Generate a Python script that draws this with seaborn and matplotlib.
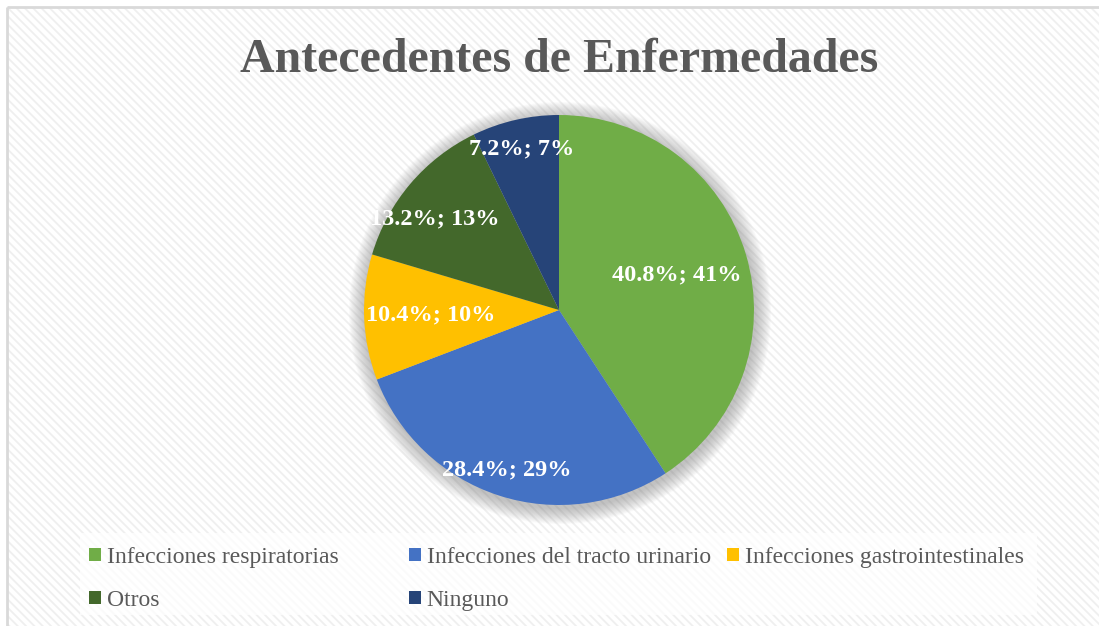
import matplotlib
matplotlib.use("Agg")
import matplotlib.pyplot as plt
from matplotlib.patches import Rectangle, Circle, Patch
from matplotlib.legend import Legend
import numpy as np
import seaborn as sns

# ---- data ----
categories = ["Infecciones respiratorias", "Infecciones del tracto urinario",
              "Infecciones gastrointestinales", "Otros", "Ninguno"]
percent_values = [40.8, 28.4, 10.4, 13.2, 7.2]
rounded_percent = [41, 29, 10, 13, 7]
title_text = "Antecedentes de Enfermedades"

# ---- style ----
sns.set_theme(style="white")
plt.rcParams['font.family'] = ['Liberation Serif', 'DejaVu Serif']
plt.rcParams['hatch.linewidth'] = 1.3
palette = sns.color_palette(["#70AD47", "#4472C4", "#FFC000", "#43682B", "#264478"])
text_gray = "#595959"

W, H = 1099, 626
fig = plt.figure(figsize=(W / 100, H / 100), dpi=100)
ax = fig.add_axes([0, 0, 1, 1])

# background hatch and frame
bg = Rectangle((7, 0), W - 7, H - 7, facecolor="white", edgecolor="#efefef",
               hatch="\\\\\\\\", linewidth=0, zorder=0)
ax.add_patch(bg)
ax.plot([7, 7], [0, H - 7], color="#d9d9d9", lw=2, zorder=1, solid_capstyle="butt")
ax.plot([7, W], [H - 7, H - 7], color="#d9d9d9", lw=2, zorder=1, solid_capstyle="butt")

cx, cy, R = 559, 316, 195

# soft shadow
for k in range(16, 0, -1):
    ax.add_patch(Circle((cx + 1, cy - 3), R + k, facecolor="#808080",
                        edgecolor="none", alpha=0.035, zorder=2))

wedges, _ = ax.pie(percent_values, colors=palette, startangle=90, counterclock=False,
                   center=(cx, cy), radius=R, frame=True,
                   wedgeprops=dict(linewidth=0, zorder=3))
ax.set_xlim(0, W)
ax.set_ylim(0, H)
ax.set_axis_off()
ax.set_aspect("auto")

label_dist = [0.63, 0.86, 0.66, 0.79, 0.85]
label_shift = [0, 0, 0, 4, 0]
for w, p, rp, d, s in zip(wedges, percent_values, rounded_percent, label_dist, label_shift):
    ang = np.deg2rad((w.theta1 + w.theta2) / 2 + s)
    ax.text(cx + d * R * np.cos(ang), cy + d * R * np.sin(ang), f"{p}%; {rp}%",
            ha="center", va="center", color="white", fontsize=17.5,
            fontweight="bold", zorder=5)

# title
ax.text(559, H - 72, title_text, ha="center", va="baseline", fontsize=34.5,
        fontweight="bold", color=text_gray, zorder=5)

# legend background
ax.add_patch(Rectangle((80, H - 615), 957, 82, facecolor="white", edgecolor="none",
                       alpha=0.75, zorder=4))

handles = [Patch(facecolor=c, edgecolor="none") for c in palette]
columns = [[0, 3], [1, 4], [2]]
col_x = [89, 409, 727]
for idx, x in zip(columns, col_x):
    leg = Legend(ax, [handles[i] for i in idx], [categories[i] for i in idx],
                 loc="upper left", bbox_to_anchor=(x, H - 547),
                 bbox_transform=ax.transData, frameon=False, fontsize=17,
                 handlelength=0.5, handleheight=0.5, handletextpad=0.25,
                 labelspacing=0.92, borderpad=0, borderaxespad=0,
                 labelcolor=text_gray)
    leg.set_zorder(6)
    ax.add_artist(leg)

fig.savefig("out.png", dpi=100)
